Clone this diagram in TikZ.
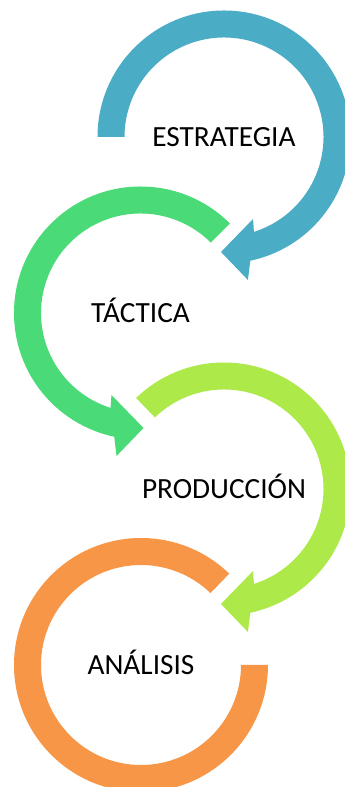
\documentclass[tikz,border=0pt]{standalone}
\usepackage{fontspec}
\setmainfont{Carlito}
\usepackage{tikz}
\usetikzlibrary{calc}
\tikzstyle{Label}=[font=\fontsize{29.3}{35}\selectfont,inner sep=0pt,text height=18.8pt,text depth=0pt]
\tikzstyle{Ring}=[draw=none]
\definecolor{aqua}{RGB}{75,172,198}
\definecolor{leaf}{RGB}{74,218,119}
\definecolor{limeg}{RGB}{173,233,72}
\definecolor{tangerine}{RGB}{247,150,70}

\begin{document}
\begin{tikzpicture}[x=1pt,y=1pt]
\useasboundingbox (0,0) rectangle (345,787);

\coordinate (Cs) at (224,650);
\coordinate (Ct) at (140.5,474);
\coordinate (Cp) at (224,298);
\coordinate (Ca) at (141,122);

% estrategia: clockwise, head at the bottom
\fill[Ring,aqua,shift={(Cs)}] (180:126.5) arc[start angle=180,end angle=-78,radius=126.5]
 -- (-80.5:145) -- (-91.5:115) -- (-70.5:87) -- (-72.5:99.5)
 arc[start angle=-72.5,end angle=180,radius=99.5] -- cycle;

% tactica: counter clockwise
\fill[Ring,leaf,shift={(Ct)}] (45:126.5) arc[start angle=45,end angle=258,radius=126.5]
 -- (260.5:145) -- (271.5:115) -- (250.5:87) -- (252.5:99.5)
 arc[start angle=252.5,end angle=45,radius=99.5] -- cycle;

% produccion
\fill[Ring,limeg,shift={(Cp)}] (134:126.5) arc[start angle=134,end angle=-78,radius=126.5]
 -- (-80.5:145) -- (-91.5:115) -- (-70.5:87) -- (-72.5:99.5)
 arc[start angle=-72.5,end angle=134,radius=99.5] -- cycle;

% analisis, no head
\fill[Ring,tangerine,shift={(Ca)}] (46:127) arc[start angle=46,end angle=360,radius=127]
 -- (0:100) arc[start angle=360,end angle=46,radius=100] -- cycle;

\node[Label] (estrategia) at (Cs) {ESTRATEGIA};
\node[Label] (tactica) at (Ct) {TÁCTICA};
\node[Label] (produccion) at (Cp) {PRODUCCIÓN};
\node[Label] (analisis) at (Ca) {ANÁLISIS};

\end{tikzpicture}
\end{document}
